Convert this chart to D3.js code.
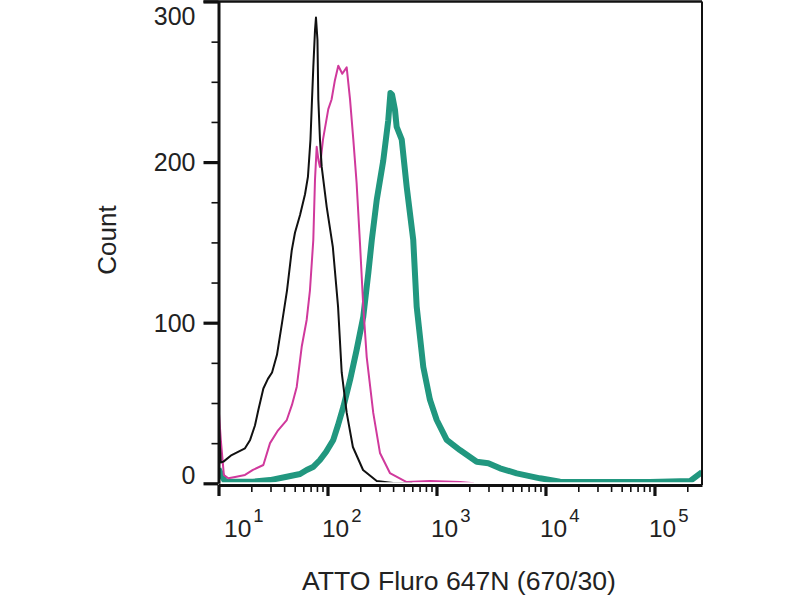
<!DOCTYPE html>
<html>
<head>
<meta charset="utf-8">
<script src="https://cdn.jsdelivr.net/npm/d3@7"></script>
<style>
  body { margin: 0; background: #fff; }
  text { font-family: "Liberation Sans", Arial, sans-serif; fill: #222; }
</style>
</head>
<body>
<div class="chart"></div>
<script>
// fluorescence (linear units) and event counts
let blackFl    = [10, 10.5, 11.1, 13.2, 17.5, 19.5, 21.6, 23.2, 25.8, 28.4, 31, 34.4, 38.3, 42.5, 47, 50.3, 56, 62.2, 66.2, 69.8, 72.1, 74.1, 76.8, 78.4, 80.9, 82.4, 85.3, 88.5, 98.4, 112, 125, 135, 150, 171, 212, 283, 399, 600];
let blackCount = [40, 13, 13.5, 17.6, 21.8, 27, 36, 45.6, 59, 65, 69, 80, 100, 120, 145, 156, 167, 180, 191, 214, 239, 259, 282, 290, 276, 239, 214, 197, 172, 147, 110, 69, 44, 22.6, 8.3, 1.4, 0.2, 0];

let pinkFl    = [10, 10.5, 11.2, 12.3, 14.2, 17.5, 20.7, 25.8, 29.7, 35.2, 42.3, 47.2, 52.2, 58, 64.4, 69, 74.1, 76.8, 79.6, 82.7, 85.3, 90.9, 101.7, 109, 117, 125.6, 136.7, 150, 161, 172.6, 185, 199, 213, 229, 263, 303, 374, 533, 871, 1640, 2200];
let pinkCount = [48, 27, 5.2, 3.1, 3.9, 5.2, 8.3, 11.4, 25, 33, 39.4, 48.8, 60, 85, 101.7, 120, 151.5, 189, 209.5, 201, 197, 214, 233, 239, 251, 260, 255, 259, 239, 214, 187, 148.5, 110, 78.6, 43.8, 18.9, 6.4, 0.8, 1.4, 0.8, 0];

let tealFl    = [10, 11.5, 20.7, 29.7, 42.3, 56, 64.4, 73.6, 85.3, 96.9, 113, 125, 140, 161, 185, 213, 237, 255, 283, 325, 361, 378, 391, 416, 431, 480, 533, 612, 658, 757, 871, 1005, 1241, 1640, 2340, 2990, 3830, 5450, 8910, 13600, 31600, 91000, 212000, 273000];
let tealCount = [9, 1, 1, 2, 4.1, 5.8, 8.3, 10.1, 14.5, 19.5, 27, 36.3, 47.7, 64.3, 83, 103.7, 131, 151.5, 176.4, 201, 226, 243, 242, 232.6, 222, 214, 184.6, 151.5, 110, 72.4, 52, 39.4, 27, 20.7, 13.4, 12.5, 9.3, 6.2, 3.1, 1, 0.8, 0.8, 1.4, 7];

let xMajorTicks = [1, 2, 3, 4, 5];          // exponents of ten
let xMinorMult  = [2, 3, 4, 5, 6, 7, 8, 9];
let yMajorTicks = [0, 100, 200, 300];
let yMinorTicks = [25, 50, 75, 125, 150, 175, 225, 250, 275];

let svgWidth = 800;
let svgHeight = 600;

let margin = {
  top: 1.5,
  right: 98,
  bottom: 116.7,
  left: 218.5
};

let width = svgWidth - margin.left - margin.right;
let height = svgHeight - margin.top - margin.bottom;

let svg = d3.select(".chart")
  .append("svg")
  .attr("width", svgWidth)
  .attr("height", svgHeight);

let chartGroup = svg.append("g")
  .attr("transform", `translate(${margin.left}, ${margin.top})`);

let xLogScale = d3.scaleLog()
  .domain([10, 273000])
  .range([0, width]);

let yLinearScale = d3.scaleLinear()
  .domain([0, 300])
  .range([height, 0]);

chartGroup.append("clipPath")
  .attr("id", "plotClip")
  .append("rect")
  .attr("x", 0)
  .attr("y", -2)
  .attr("width", width)
  .attr("height", height + 1);

let series = [
  { fl: tealFl, count: tealCount, color: "#21977f", w: 6 },
  { fl: pinkFl, count: pinkCount, color: "#d0399c", w: 2 },
  { fl: blackFl, count: blackCount, color: "#111111", w: 2 }
];

let line = d3.line()
  .x(d => xLogScale(d[0]))
  .y(d => yLinearScale(d[1]));

let lines = chartGroup.append("g").attr("clip-path", "url(#plotClip)");
series.forEach(function(s) {
  lines.append("path")
    .datum(d3.zip(s.fl, s.count))
    .attr("d", line)
    .attr("fill", "none")
    .attr("stroke", s.color)
    .attr("stroke-width", s.w)
    .attr("stroke-linejoin", "round");
});

// frame (top and right)
chartGroup.append("line")
  .attr("x1", -15).attr("x2", width)
  .attr("y1", 0).attr("y2", 0)
  .attr("stroke", "#111").attr("stroke-width", 2.5);
chartGroup.append("line")
  .attr("x1", width).attr("x2", width)
  .attr("y1", 0).attr("y2", height + 1.7)
  .attr("stroke", "#111").attr("stroke-width", 2);

// x axis: minor then major ticks
let xMinorValues = [];
xMajorTicks.forEach(function(e) {
  xMinorMult.forEach(function(m) {
    let v = m * Math.pow(10, e);
    if (v < xLogScale.domain()[1]) xMinorValues.push(v);
  });
});
let xMajorValues = xMajorTicks.map(e => Math.pow(10, e));

let xAxisY = height + 1.7;

let xMinorAxis = chartGroup.append("g")
  .attr("transform", `translate(0, ${xAxisY})`)
  .call(d3.axisBottom(xLogScale).tickValues(xMinorValues).tickSize(7).tickFormat(""));
xMinorAxis.select(".domain").remove();
xMinorAxis.selectAll("line").attr("stroke", "#111").attr("stroke-width", 1.6);

let xMajorAxis = chartGroup.append("g")
  .attr("transform", `translate(0, ${xAxisY})`)
  .call(d3.axisBottom(xLogScale).tickValues(xMajorValues).tickSize(11).tickFormat("").tickSizeOuter(0));
xMajorAxis.select(".domain").attr("stroke", "#111").attr("stroke-width", 3);
xMajorAxis.selectAll("line").attr("stroke", "#111").attr("stroke-width", 3.2);

let xLabels = chartGroup.append("g");
xMajorTicks.forEach(function(e) {
  let tx = Math.max(xLogScale(Math.pow(10, e)) - 5.5, 5.5);
  let t = xLabels.append("text")
    .attr("x", tx)
    .attr("y", 536.7 - margin.top)
    .attr("font-size", 24.5)
    .attr("text-anchor", "start");
  t.append("tspan").text("10");
  t.append("tspan")
    .attr("dx", 2)
    .attr("dy", -15)
    .attr("font-size", 18.5)
    .text(e);
});

// y axis
let yMinorAxis = chartGroup.append("g")
  .call(d3.axisLeft(yLinearScale).tickValues(yMinorTicks).tickSize(7).tickFormat(""));
yMinorAxis.select(".domain").remove();
yMinorAxis.selectAll("line").attr("stroke", "#111").attr("stroke-width", 1.6);

let yMajorAxis = chartGroup.append("g")
  .call(d3.axisLeft(yLinearScale).tickValues(yMajorTicks).tickSize(15).tickFormat("").tickSizeOuter(0));
yMajorAxis.select(".domain").attr("stroke", "#111").attr("stroke-width", 3);
yMajorAxis.selectAll("line").attr("stroke", "#111").attr("stroke-width", 3.2);

chartGroup.append("g").selectAll("text")
  .data(yMajorTicks)
  .enter()
  .append("text")
  .attr("x", -23)
  .attr("y", d => Math.min(Math.max(yLinearScale(d), 14.5), height - 8))
  .attr("dy", "0.36em")
  .attr("font-size", 25)
  .attr("text-anchor", "end")
  .text(d => d);

// axis titles
svg.append("text")
  .attr("transform", "translate(116, 240) rotate(-90)")
  .attr("text-anchor", "middle")
  .attr("font-size", 26)
  .text("Count");

svg.append("text")
  .attr("x", 459)
  .attr("y", 590)
  .attr("text-anchor", "middle")
  .attr("font-size", 26.6)
  .text("ATTO Fluro 647N (670/30)");
</script>
</body>
</html>
